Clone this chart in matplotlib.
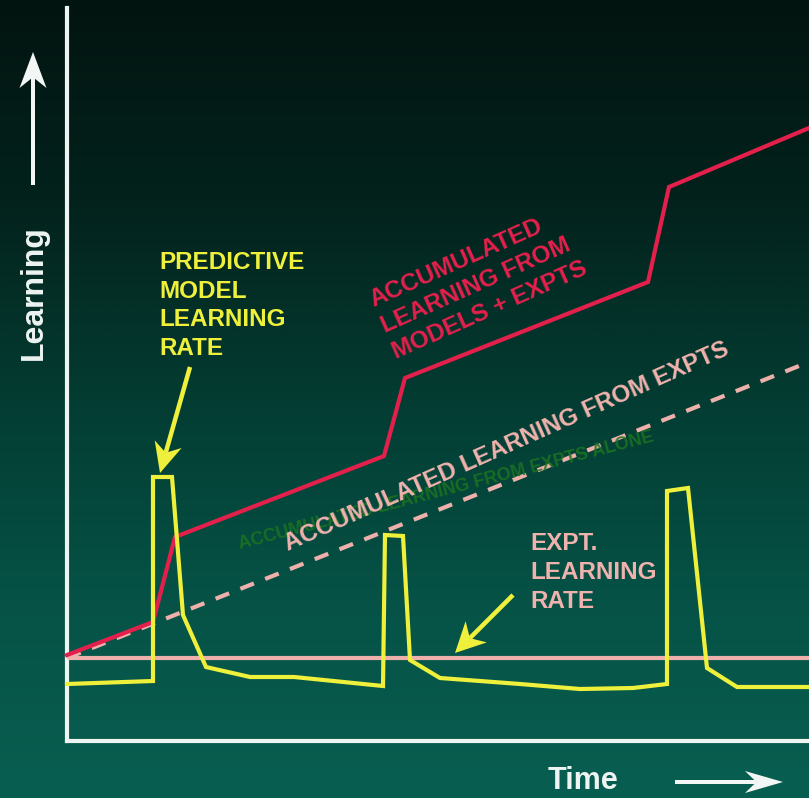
import numpy as np
import matplotlib
matplotlib.use('Agg')
import matplotlib.pyplot as plt
from matplotlib.patches import Polygon

# ---------------- data (time units from y-axis, learning units from x-axis) -------------
red_t = [0, 86, 108, 317, 338, 581, 602, 742]
red_L = [86, 119, 204, 285, 363, 459, 554, 613]

expt_t = [0, 742]
expt_L = [83, 379]

rate_t = [0, 742]
rate_L = [83, 83]

yel_t = [0, 86, 86, 105, 116, 139, 183, 227, 316, 318, 336, 343, 373, 453, 513,
         566, 600, 600, 621, 640, 670, 742]
yel_L = [57, 60, 264, 264, 126, 74, 64, 64, 55, 206, 205, 81, 63, 57, 52,
         53, 57, 250, 253, 73, 54, 54]

red_lines = ["ACCUMULATED", "LEARNING FROM", "MODELS + EXPTS"]
yel_lines = ["PREDICTIVE", "MODEL", "LEARNING", "RATE"]
pink_lines = ["EXPT.", "LEARNING", "RATE"]
diag_label = "ACCUMULATED LEARNING FROM EXPTS"
faint_label = "ACCUMULATED LEARNING FROM EXPTS ALONE"

W, H = 809, 798
fig = plt.figure(figsize=(W / 100, H / 100), dpi=100)

# ---------------- background gradient ----------------
bg = fig.add_axes([0, 0, 1, 1])
stops = np.array([0.0, 0.25, 0.5, 0.75, 1.0])
cols = np.array([[2, 20, 16], [3, 34, 28], [3, 60, 50], [6, 82, 70], [8, 95, 81]]) / 255.0
yy = np.linspace(0, 1, 400)
grad = np.stack([np.interp(yy, stops, cols[:, i]) for i in range(3)], axis=-1)
bg.imshow(grad[:, None, :], aspect='auto', extent=[0, 1, 1, 0])
bg.set_xlim(0, 1)
bg.set_ylim(1, 0)
bg.axis('off')

# ---------------- main data axes ----------------
x0px, yaxis_bottom, ytop = 67, 741, 8
ax = fig.add_axes([x0px / W, (H - yaxis_bottom) / H, (W - x0px) / W, (yaxis_bottom - ytop) / H])
ax.patch.set_alpha(0)
ax.set_xlim(0, W - x0px)
ax.set_ylim(0, yaxis_bottom - ytop)
for s in ['top', 'right']:
    ax.spines[s].set_visible(False)
for s in ['left', 'bottom']:
    ax.spines[s].set_color('#eef4f2')
    ax.spines[s].set_linewidth(3)
ax.set_xticks([])
ax.set_yticks([])

ax.plot(rate_t, rate_L, color='#eeb0ab', lw=3, clip_on=False, zorder=2)
ax.plot(expt_t, expt_L, color='#eeb0ab', lw=3, dashes=(3.5, 2.9), clip_on=False, zorder=3)
ax.plot(red_t, red_L, color='#e3204c', lw=3, clip_on=False, zorder=4, solid_joinstyle='miter')
ax.plot(yel_t, yel_L, color='#eef03c', lw=3, clip_on=False, zorder=5, solid_joinstyle='miter')

# ---------------- overlay axes in pixel coordinates ----------------
ov = fig.add_axes([0, 0, 1, 1])
ov.patch.set_alpha(0)
ov.set_xlim(0, W)
ov.set_ylim(H, 0)
ov.axis('off')

FONT = 'Liberation Sans'
FS = 17.5


def arrow(x0, y0, x1, y1, hl, hw, sw, color, notch=0.3):
    d = np.array([x1 - x0, y1 - y0], float)
    u = d / np.hypot(*d)
    n = np.array([-u[1], u[0]])
    tip = np.array([x1, y1], float)
    base = tip - u * hl
    nt = tip - u * hl * (1 - notch)
    ov.plot([x0, nt[0]], [y0, nt[1]], color=color, lw=sw * 0.72,
            solid_capstyle='butt', zorder=10)
    ov.add_patch(Polygon([tip, base + n * hw / 2, nt, base - n * hw / 2],
                         closed=True, color=color, lw=0, zorder=10))


# axis arrows
arrow(33, 185, 33, 52, 36, 27, 4, '#f2f6f4')
arrow(675, 782, 783, 782, 38, 22, 4, '#f2f6f4')

# axis labels
ov.text(42, 360, "Learning", rotation=90, rotation_mode='anchor', ha='left', va='baseline',
        fontsize=23, fontweight='bold', color='#eef4f2', family=FONT)
ov.text(548, 789, "Time", ha='left', va='baseline',
        fontsize=22, fontweight='bold', color='#eef4f2', family=FONT)

# faint green label
ov.text(240, 549, faint_label, rotation=14.6, rotation_mode='anchor', ha='left', va='baseline',
        fontsize=13, fontweight='bold', color='#1c7420', family=FONT, zorder=1, alpha=0.85)

# red label
ang = 24
perp = np.array([np.sin(np.radians(ang)), np.cos(np.radians(ang))])
for i, line in enumerate(red_lines):
    px, py = np.array([373, 307]) + perp * 28.7 * i
    ov.text(px, py, line, rotation=ang, rotation_mode='anchor', ha='left', va='baseline',
            fontsize=FS, fontweight='bold', color='#e3204c', family=FONT, zorder=6)

# diagonal pink label
ov.text(288, 551, diag_label, rotation=24, rotation_mode='anchor', ha='left', va='baseline',
        fontsize=FS, fontweight='bold', color='#f0b2ad', family=FONT, zorder=6)

# yellow label
for i, line in enumerate(yel_lines):
    ov.text(159, 269 + 28.7 * i, line, ha='left', va='baseline',
            fontsize=FS, fontweight='bold', color='#eef03c', family=FONT, zorder=6)

# pink label
for i, line in enumerate(pink_lines):
    ov.text(530, 550 + 29 * i, line, ha='left', va='baseline',
            fontsize=FS, fontweight='bold', color='#f0b2ad', family=FONT, zorder=6)

# yellow pointer arrows
arrow(190, 367, 160, 473, 30, 28, 4.5, '#eef03c')
arrow(513, 595, 455, 653, 30, 30, 4.5, '#eef03c')

fig.savefig('out.png', dpi=100)
